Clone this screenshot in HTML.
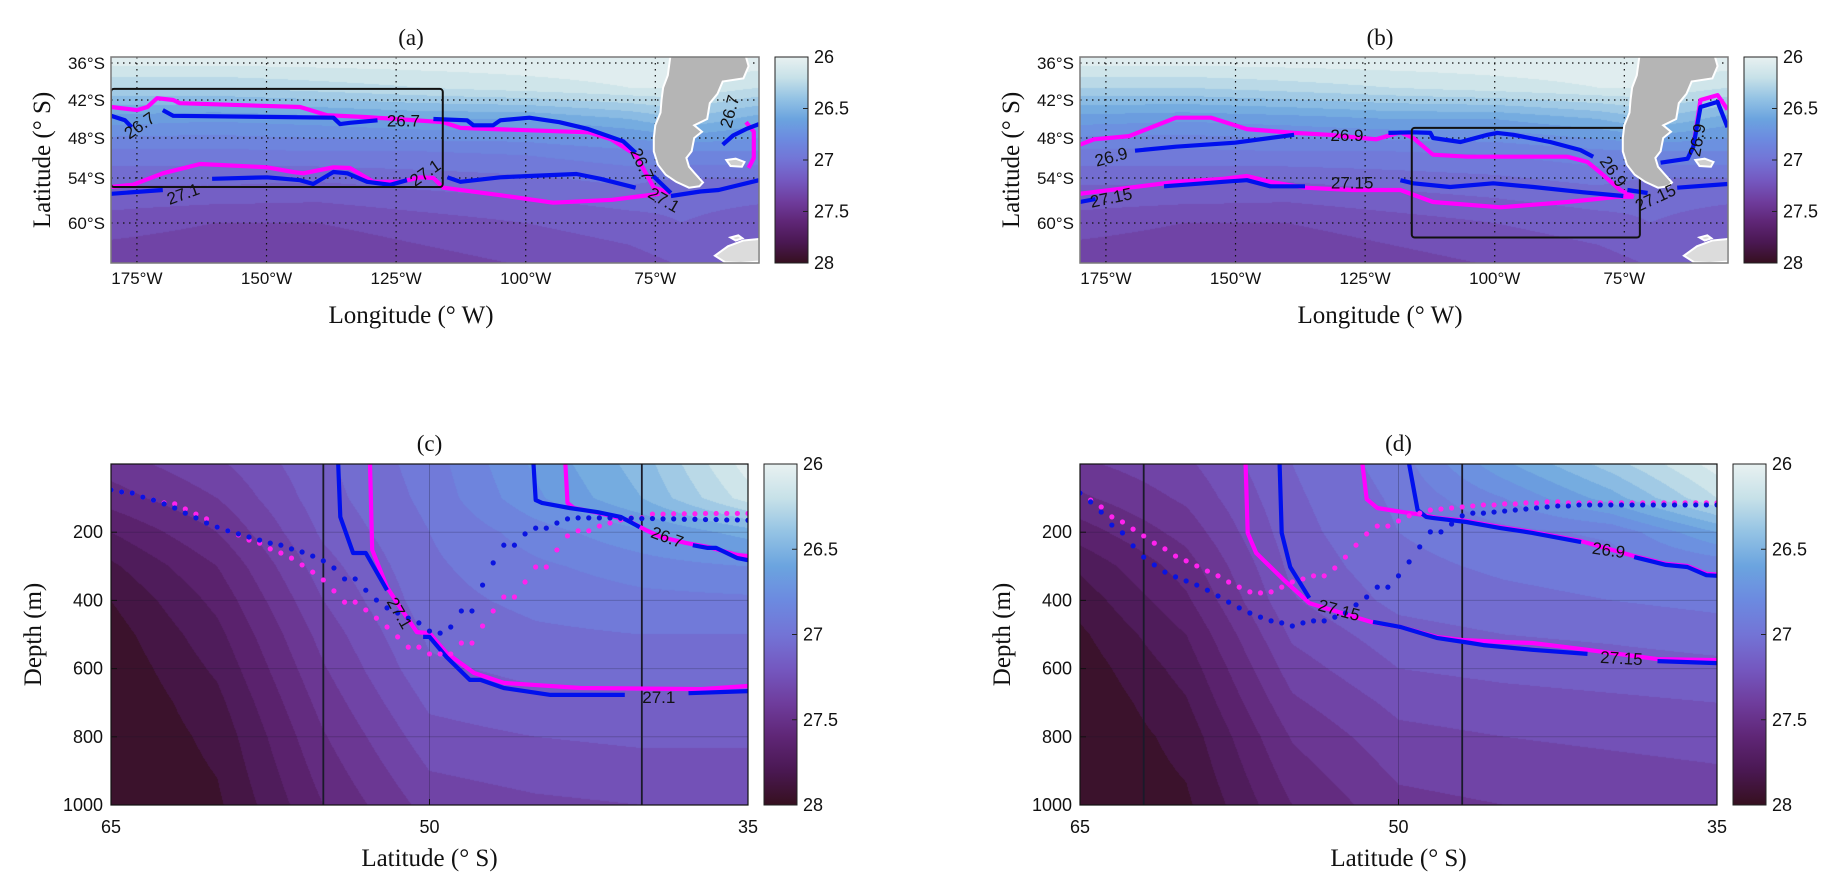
<!DOCTYPE html>
<html><head><meta charset="utf-8"><title>Density panels</title>
<style>
html,body{margin:0;padding:0;background:#fff;}
#wrap{position:relative;width:1844px;height:891px;overflow:hidden;background:#fff;}
#bg,#fig{position:absolute;left:0;top:0;}
text{font-family:"Liberation Sans",Arial,sans-serif;}
.serif{font-family:"Liberation Serif","DejaVu Serif",serif;}
</style></head>
<body>
<div id="wrap">
<canvas id="bg" width="1844" height="891"></canvas>
<svg id="fig" width="1844" height="891" xmlns="http://www.w3.org/2000/svg"></svg>
</div>
<script>
// ---------------- DATA ----------------
// Map panel (a)
const aBlue267Lon=[180,177.3,176,null,170,168,137.1,135.8,133.9,128.6,null,117.8,111.3,110.1,106.3,104.9,99.3,93.5,87.9,81.2,78.8,null,75.4,72,null,62,60,57.5,55];
const aBlue267Lat=[44.5,45.2,46.3,null,43.6,44.5,44.8,45.8,45.6,45.2,null,45,45.2,46,46,45.2,44.8,45.5,46.6,48.5,50.2,null,53.7,56,null,49,47.6,46.6,45.8];
const aMag267Lon=[180,175,173,171.1,168,166.7,143.5,138.3,130.6,115.9,112.6,106,87.9,83.5,78.8,75.3,72,null,57.5,56,56,57];
const aMag267Lat=[43.1,43.6,43.1,41.7,42,42.5,43.1,44.4,44.7,45.5,46.4,46.6,47.1,48.2,50.5,55.3,56,null,45.5,47,51,52.5];
const aBlue271Lon=[180,170,null,160.5,149.9,143.5,141,137.1,134.4,130.6,126.1,122.9,null,115.1,112.6,104.9,99.3,90.2,85.6,78.8,null,72,66.3,62.8,55];
const aBlue271Lat=[56.1,55.6,null,54.1,53.9,54.3,54.8,53.1,53.3,54.5,54.9,54.3,null,53.9,54.5,53.9,53.7,53.4,54.1,55.3,null,56.4,55.8,55.6,54.3];
const aMag271Lon=[180,175.8,170,162.8,149.9,144.9,142.9,137.1,133.9,129.4,124.2,120.3,117.8,115.9,104.9,94.7,83.3,74.2];
const aMag271Lat=[55.2,54.9,53.3,51.9,52.4,53.1,53.3,52.4,52.5,54.5,54.5,53.9,54,55.3,56.3,57.3,56.9,56.1];
const aBoxLon=[180,116];const aBoxLat=[40.2,55.2];
const aLabelText=["26.7","26.7","27.1","27.1","26.7","27.1","26.7"];
const aLabelLon=[174.5,123.6,166.1,119.4,77.5,73.3,60.7];
const aLabelLat=[46,45.2,56.1,53.2,51.9,56.9,43.8];
const aLabelRot=[-35,0,-20,-35,65,30,-75];
// Map panel (b)
const bMag269Lon=[180,177.3,170.5,161.5,154.7,147.8,138.7,131.9,122.9,118.2,115.7,111.9,105.3,98.9,86,82.1,79.6,75.8,73.2,null,61.7,60.3,57,55.1];
const bMag269Lat=[49.0,48.2,47.7,44.8,44.8,46.6,47.2,47.5,48.2,47.1,48.0,50.5,50.8,50.8,50.8,51.6,53.2,55.6,56.5,null,49.3,42,41.2,43.5];
const bBlue269Lon=[169.4,161.5,150.1,138.7,null,120.5,115.7,112.4,111.9,106.6,101.4,99.5,96.4,89.3,83.5,81,null,74.4,70.5,null,68,62.8,61.7,60.3,57,55.1];
const bBlue269Lat=[49.9,49.3,48.7,47.5,null,47.2,47.1,47.2,48.0,48.6,47.5,47.2,47.5,48.6,49.8,50.8,null,55.6,56.0,null,51.7,51.1,49.3,43.1,42.3,46.3];
const bMag2715Lon=[180,170.5,161.5,152.4,147.8,143.3,136.6,127.5,118.2,111.9,98.9,86,76.3,73.2];
const bMag2715Lat=[56.1,55.3,54.5,54.1,53.7,54.5,55.3,55.6,55.6,57.2,57.9,57.2,56.5,56.5];
const bBlue2715Lon=[180,177,null,163.8,152.4,147.8,143.3,136.6,null,118.2,115.7,108.6,100.3,92.5,82.9,75.2,null,64.8,55.1];
const bBlue2715Lat=[57.2,56.8,null,55.1,54.5,54.3,55.1,55.1,null,54.3,54.7,55.2,54.7,55.2,55.9,56.4,null,55.3,54.8];
const bBoxLon=[116,72];const bBoxLat=[46.4,62];
const bLabelText=["26.9","26.9","26.9","26.9","27.15","27.15","27.15"];
const bLabelLon=[174,128.5,77.1,61,174,127.5,69];
const bLabelLat=[50.8,47.5,53,48.3,56.6,54.6,56.6];
const bLabelRot=[-15,0,55,-80,-12,0,-25];
// Section panel (c)
const cBlue271Lat=[54.3,54.2,53.6,53.0,52.0,null,50.3,50.0,49.2,48.1,47.6,46.5,44.3,40.8,null,37.8,35];
const cBlue271Dep=[0,155,261,261,370,null,507,507,566,633,633,657,677,677,null,672,666];
const cMag271Lat=[52.8,52.7,52.0,51.4,50.6,50.0,49.2,47.9,46.5,42.9,37.2,35];
const cMag271Dep=[0,252,361,419,493,496,554,613,642,657,660,651];
const cBlue267Lat=[45.1,45.0,44.7,43.4,42.1,41.0,40.1,null,37.6,36.9,36.5,35.5,35];
const cBlue267Dep=[0,106,114,129,141,155,185,null,238,246,246,276,282];
const cMag267Lat=[43.6,43.5,43.2,42.0,40.7,39.8,39.1,37.9,36.9,35.5,35];
const cMag267Dep=[0,114,129,144,164,194,214,232,243,267,270];
const cBlueDots=[76,82,85,97,106,117,129,144,158,173,185,196,205,214,223,232,238,249,258,270,284,305,337,337,370,399,422,437,452,466,490,496,478,431,431,355,290,238,238,205,188,188,173,161,158,158,158,158,159,159,160,160,161,161,162,162,163,163,164,164,165];
const cMagDots=[76,82,85,97,106,114,117,132,147,161,185,196,208,223,232,249,261,276,296,317,340,372,405,405,428,452,478,507,537,537,557,557,557,525,525,475,431,390,390,346,302,302,252,211,196,196,182,173,164,158,158,147,147,146,146,146,145,145,145,145,145];
const cVLines=[55,40];
const cLabelText=["27.1","26.7","27.1"];
const cLabelLat=[51.4,38.8,39.2];
const cLabelDep=[437,214,684];
const cLabelRot=[60,20,0];
// Section panel (d)
const dMag2715Lat=[57.2,57.1,56.7,55.4,54.2,51.3,49.9,48.2,47.0,45.1,43.7,41.1,37.8,35];
const dMag2715Dep=[0,202,261,340,408,463,478,507,516,522,525,545,572,575];
const dBlue2715Lat=[55.6,55.5,55.1,54.2,null,51.2,49.9,48.2,46.6,46.0,43.7,41.1,null,37.8,35];
const dBlue2715Dep=[0,202,302,393,null,463,478,510,525,531,545,557,null,578,584];
const dBlue269Lat=[49.5,49.1,48.7,48.4,46.8,45.2,43.7,41.4,null,38.9,37.4,36.4,35.5,35];
const dBlue269Dep=[0,135,155,158,170,188,202,229,null,273,296,302,326,328];
const dMag269Lat=[51.7,51.5,51.0,49.8,48.8,48.2,46.8,45.2,43.7,41.4,38.9,37.4,36.4,35.5,35];
const dMag269Dep=[0,103,129,141,150,158,167,185,199,226,270,293,299,322,324];
const dBlueDots=[85,111,141,179,202,240,273,296,317,331,343,355,370,387,405,422,437,449,460,466,475,466,460,460,449,437,413,390,361,361,328,287,243,199,199,176,152,144,144,141,138,135,132,129,126,123,123,120,120,120,120,120,120,120,120,120,120,120,120,120,120];
const dMagDots=[85,106,126,155,170,191,211,232,249,270,284,299,314,328,346,361,375,378,375,361,346,337,328,328,305,273,238,205,182,182,167,152,144,135,132,129,126,123,120,120,117,117,114,114,111,111,114,114,114,114,114,114,114,114,114,114,114,114,114,114,114];
const dVLines=[62,47];
const dLabelText=["27.15","26.9","27.15"];
const dLabelLat=[52.8,40.1,39.5];
const dLabelDep=[428,252,569];
const dLabelRot=[15,8,3];
// Background density fields
const mapFieldLon=[55,70,80,100,120,140,160,180];
const mapFieldLat=[35,40,45,50,55,60,66];
const mapField=[
[26.02,26.02,26.02,26.02,26.02,26.02,26.02,26.02],
[26.2,26.1,26.1,26.15,26.2,26.25,26.3,26.3],
[26.55,26.4,26.5,26.6,26.6,26.65,26.68,26.65],
[26.8,26.8,26.82,26.88,26.9,26.9,26.92,26.92],
[27.05,27.05,27.0,27.05,27.08,27.12,27.1,27.1],
[27.15,27.1,27.15,27.2,27.25,27.3,27.3,27.25],
[27.2,27.2,27.25,27.3,27.35,27.4,27.4,27.38]];
const secFieldLat=[35,40,45,50,55,60,65];
const secFieldDep=[0,100,200,300,400,500,600,700,800,1000];
const cField=[
[26.05,26.45,26.68,26.95,27.12,27.32,27.45],
[26.15,26.5,26.72,26.97,27.14,27.4,27.55],
[26.55,26.72,26.85,27.0,27.18,27.5,27.7],
[26.8,26.85,26.92,27.02,27.24,27.6,27.82],
[26.92,26.93,26.97,27.04,27.3,27.67,27.9],
[27.0,27.0,27.02,27.08,27.36,27.73,27.95],
[27.06,27.06,27.07,27.12,27.41,27.78,27.98],
[27.12,27.12,27.13,27.18,27.46,27.83,28.0],
[27.18,27.18,27.2,27.24,27.51,27.87,28.0],
[27.3,27.3,27.32,27.36,27.6,27.92,28.0]];
const dField=[
[26.05,26.35,26.62,26.95,27.1,27.32,27.42],
[26.2,26.55,26.8,26.98,27.12,27.38,27.52],
[26.6,26.88,26.93,27.0,27.14,27.46,27.65],
[26.88,26.95,26.98,27.03,27.17,27.55,27.78],
[26.97,27.0,27.03,27.07,27.21,27.62,27.86],
[27.05,27.08,27.1,27.14,27.28,27.7,27.92],
[27.13,27.15,27.17,27.2,27.35,27.76,27.96],
[27.2,27.22,27.24,27.27,27.42,27.81,27.99],
[27.26,27.28,27.3,27.33,27.49,27.86,28.0],
[27.36,27.38,27.4,27.43,27.6,27.92,28.0]];
// Land (South America), lon W, lat S
const landLon=[71.8,72.6,73.5,73.8,74,75,75.3,75.3,74.5,73,71,68.5,66.5,65.8,67.5,68.5,69,68,67.5,66,67.5,65,64.5,63,62,58,57,57.5,56.5,56];
const landLat=[33,38,40,42,44,46,48,50,52,53.5,54.5,55.3,55.1,54.6,53.2,52.3,51,50,48,47,46,45,42.5,41,39,38.5,36.5,35,34.5,33];
const falkLon=[61.3,59.5,57.8,58.3,60.5];const falkLat=[51.3,51.1,51.6,52.3,52.2];
const antLon=[63.5,61,58,55,55,58.5,61.5];const antLat=[64.5,63.2,62.4,62.2,65.3,65.5,65.4];
const antLon2=[60.5,59,58.2,59.5];const antLat2=[62.0,61.7,62.1,62.4];
// Axes ticks
const mapLonTicks=[175,150,125,100,75];
const mapLatTicks=[36,42,48,54,60];
const secLatTicks=[65,50,35];
const secDepTicks=[200,400,600,800,1000];
const cbarTicks=[26,26.5,27,27.5,28];
// ---------------- COLORMAP ----------------
const cmapV=[26.0,26.2,26.4,26.6,26.8,27.0,27.2,27.4,27.6,27.8,28.0];
const cmapC=["#e8f1f1","#c7e1e8","#94c3e4","#6ba4df","#6c8ae0","#7374d6","#7458c0","#6f3d9d","#5f2676","#4a1852","#36101f"];
function hex(c){return [parseInt(c.slice(1,3),16),parseInt(c.slice(3,5),16),parseInt(c.slice(5,7),16)];}
const cmapRGB=cmapC.map(hex);
function cmap(v){
  if(v<=cmapV[0])return cmapRGB[0];
  for(let i=1;i<cmapV.length;i++){ if(v<=cmapV[i]){const t=(v-cmapV[i-1])/(cmapV[i]-cmapV[i-1]);const a=cmapRGB[i-1],b=cmapRGB[i];return [a[0]+(b[0]-a[0])*t,a[1]+(b[1]-a[1])*t,a[2]+(b[2]-a[2])*t];}}
  return cmapRGB[cmapRGB.length-1];
}
function locate(arr,v){let i=0;while(i<arr.length-2&&v>arr[i+1])i++;let t=(v-arr[i])/(arr[i+1]-arr[i]);t=Math.max(0,Math.min(1,t));return [i,t];}
function interp2(xs,ys,tab,x,y){const [i,tx]=locate(xs,x);const [j,ty]=locate(ys,y);
  const a=tab[j][i],b=tab[j][i+1],c=tab[j+1][i],d=tab[j+1][i+1];return (a*(1-tx)+b*tx)*(1-ty)+(c*(1-tx)+d*tx)*ty;}
// ---------------- PANELS / AXES ----------------
const P={a:{x0:111,y0:57,w:648,h:206},b:{x0:1080,y0:57,w:648,h:206},c:{x0:111,y0:464,w:637,h:341},d:{x0:1080,y0:464,w:637,h:341}};
const mapLatBP=[35,36,42,48,54,60,65.5], mapYBP=[0,6,43,81,121,166,206];
function mapX(p,lon){return p.x0+(180-lon)*p.w/125;}
function mapY(p,lat){const [i]=locate(mapLatBP,lat);const tt=(lat-mapLatBP[i])/(mapLatBP[i+1]-mapLatBP[i]);return p.y0+mapYBP[i]+(mapYBP[i+1]-mapYBP[i])*tt;}
function mapYinv(p,y){const r=y-p.y0;const [i]=locate(mapYBP,r);const t=(r-mapYBP[i])/(mapYBP[i+1]-mapYBP[i]);return mapLatBP[i]+(mapLatBP[i+1]-mapLatBP[i])*t;}
function secX(p,lat){return p.x0+(65-lat)*p.w/30;}
function secY(p,dep){return p.y0+dep*p.h/1000;}
// ---------------- BACKGROUND CANVAS ----------------
const ctx=document.getElementById('bg').getContext('2d');
function band(v){const b=Math.floor((v-26)/0.1);return cmap(26+0.1*b+0.05);}
function paint(p,fn){
  const img=ctx.createImageData(p.w,p.h);
  for(let y=0;y<p.h;y++)for(let x=0;x<p.w;x++){
    const c=band(fn(p.x0+x+0.5,p.y0+y+0.5));const k=(y*p.w+x)*4;
    img.data[k]=c[0];img.data[k+1]=c[1];img.data[k+2]=c[2];img.data[k+3]=255;}
  ctx.putImageData(img,p.x0,p.y0);
}
['a','b'].forEach(k=>{const p=P[k];paint(p,(X,Y)=>{const lon=180-(X-p.x0)*125/p.w;const lat=mapYinv(p,Y);return interp2(mapFieldLon,mapFieldLat,mapField,lon,lat);});});
[['c',cField],['d',dField]].forEach(([k,tab])=>{const p=P[k];paint(p,(X,Y)=>{const lat=65-(X-p.x0)*30/p.w;const dep=(Y-p.y0)*1000/p.h;return interp2(secFieldLat,secFieldDep,tab,lat,dep);});});
// ---------------- SVG ----------------
const NS='http://www.w3.org/2000/svg';
const svg=document.getElementById('fig');
function el(tag,attrs,parent){const e=document.createElementNS(NS,tag);for(const k in attrs)e.setAttribute(k,attrs[k]);(parent||svg).appendChild(e);return e;}
function txt(s,x,y,attrs,parent){const t=el('text',Object.assign({x:x,y:y,'font-size':17,fill:'#111'},attrs||{}),parent);t.textContent=s;return t;}
const defs=el('defs',{});
const grad=el('linearGradient',{id:'cbg',x1:0,y1:0,x2:0,y2:1},defs);
cmapV.forEach((v,i)=>{el('stop',{offset:((v-26)/2*100)+'%','stop-color':cmapC[i]},grad);});
Object.keys(P).forEach(k=>{const p=P[k];const cp=el('clipPath',{id:'clip'+k},defs);el('rect',{x:p.x0,y:p.y0,width:p.w,height:p.h},cp);});
function pathFrom(xs,ys){let d='',pen=false;for(let i=0;i<xs.length;i++){if(xs[i]===null){pen=false;continue;}d+=(pen?'L':'M')+xs[i].toFixed(1)+' '+ys[i].toFixed(1)+' ';pen=true;}return d;}
function drawLine(g,p,isMap,la,lb,color,name){
  const xs=la.map(v=>v===null?null:(isMap?mapX(p,v):secX(p,v)));
  const ys=lb.map(v=>v===null?null:(isMap?mapY(p,v):secY(p,v)));
  const e=el('path',{d:pathFrom(xs,ys),fill:'none',stroke:color,'stroke-width':4.2,'stroke-linejoin':'round','stroke-linecap':'butt'},g);
  
  
}
function drawLabels(g,p,isMap,texts,la,lb,rots,name){
  texts.forEach((s,i)=>{const x=isMap?mapX(p,la[i]):secX(p,la[i]);const y=isMap?mapY(p,lb[i]):secY(p,lb[i]);
    const t=txt(s,x,y+6,{'text-anchor':'middle','font-size':17,fill:'#111',transform:'rotate('+rots[i]+' '+x+' '+y+')'},g);
    
    });
}
function colorbar(p,name){
  const cx=p.x0+p.w+16, cy=p.y0, cw=33, ch=p.h;
  const g=el('g',{});
  
  
  el('rect',{x:cx,y:cy,width:cw,height:ch,fill:'url(#cbg)',stroke:'#222','stroke-width':1},g);
  cbarTicks.forEach(v=>{const y=cy+(v-26)/2*ch;
    if(v>26&&v<28)el('line',{x1:cx+cw-5,x2:cx+cw,y1:y,y2:y,stroke:'#222','stroke-width':1},g);
    const t=txt(String(v),cx+cw+6,y+6,{'font-size':18},g);
    
    });
}
function land(g,p){
  const mk=(lo,la,fill,name)=>{const d=pathFrom(lo.map(v=>mapX(p,v)),la.map(v=>mapY(p,v)))+'Z';
    const e=el('path',{d:d,fill:fill,stroke:'#ffffff','stroke-width':2},g);
    
    };
  mk(landLon,landLat,'#b5b5b5','south-america-land');
  mk(falkLon,falkLat,'#cfcfcf','falkland-islands');
  mk(antLon,antLat,'#dcdcdc','antarctic-peninsula');
  mk(antLon2,antLat2,'#dcdcdc','south-shetland-islands');
}
function mapPanel(k,title,lines,labels,box){
  const p=P[k];
  const g=el('g',{});
  
  
  const inner=el('g',{'clip-path':'url(#clip'+k+')'},g);
  mapLonTicks.forEach(lon=>{const x=mapX(p,lon);const e=el('line',{x1:x,x2:x,y1:p.y0,y2:p.y0+p.h,stroke:'#111','stroke-width':1.2,'stroke-dasharray':'1.5 4.5'},inner);
    
    });
  mapLatTicks.forEach(lat=>{const y=mapY(p,lat);const e=el('line',{x1:p.x0,x2:p.x0+p.w,y1:y,y2:y,stroke:'#111','stroke-width':1.2,'stroke-dasharray':'1.5 4.5'},inner);
    
    });
  lines.forEach(L=>drawLine(inner,p,true,L[0],L[1],L[2],L[3]));
  const bx1=mapX(p,box[0][0]),bx2=mapX(p,box[0][1]),by1=mapY(p,box[1][0]),by2=mapY(p,box[1][1]);
  const r=el('rect',{x:Math.min(bx1,bx2),y:by1,width:Math.abs(bx2-bx1),height:by2-by1,rx:3,fill:'none',stroke:'#111','stroke-width':2},inner);
  
  
  land(inner,p);
  drawLabels(inner,p,true,labels[0],labels[1],labels[2],labels[3],'contour-label');
  el('rect',{x:p.x0,y:p.y0,width:p.w,height:p.h,fill:'none',stroke:'#7a7a7a','stroke-width':1.5},g);
  mapLonTicks.forEach(lon=>{const t=txt(lon+'°W',mapX(p,lon),284,{'text-anchor':'middle'},g);
    
    });
  mapLatTicks.forEach(lat=>{const t=txt(lat+'°S',p.x0-6,mapY(p,lat)+6,{'text-anchor':'end'},g);
    
    });
  const tt=txt(title,p.x0+p.w/2-24,45,{'text-anchor':'middle','font-size':23,class:'serif'},g);
  
  
  const xl=txt('Longitude (° W)',p.x0+p.w/2-24,323,{'text-anchor':'middle','font-size':25,class:'serif'},g);
  
  
  const yl=txt('Latitude (° S)',0,0,{'text-anchor':'middle','font-size':25,class:'serif',transform:'translate('+(p.x0-61)+','+(p.y0+p.h/2)+') rotate(-90)'},g);
  
  
  colorbar(p,'colorbar-'+k);
}
function secPanel(k,title,lines,dotSets,vlines,labels){
  const p=P[k];
  const g=el('g',{});
  
  
  const inner=el('g',{'clip-path':'url(#clip'+k+')'},g);
  [50].forEach(lat=>{const x=secX(p,lat);const e=el('line',{x1:x,x2:x,y1:p.y0,y2:p.y0+p.h,stroke:'rgba(20,20,40,0.28)','stroke-width':1},inner);
    
    });
  secDepTicks.forEach(dep=>{const y=secY(p,dep);const e=el('line',{x1:p.x0,x2:p.x0+p.w,y1:y,y2:y,stroke:'rgba(20,20,40,0.22)','stroke-width':1},inner);
    
    });
  vlines.forEach(lat=>{const x=secX(p,lat);const e=el('line',{x1:x,x2:x,y1:p.y0,y2:p.y0+p.h,stroke:'#1a1a2a','stroke-width':1.8},inner);
    
    });
  lines.forEach(L=>drawLine(inner,p,false,L[0],L[1],L[2],L[3]));
  dotSets.forEach(([vals,color,name])=>{vals.forEach((dep,i)=>{const lat=65-0.5*i;
    const c=el('circle',{cx:secX(p,lat),cy:secY(p,dep),r:2.6,fill:color},inner);
    
    });});
  drawLabels(inner,p,false,labels[0],labels[1],labels[2],labels[3],'contour-label');
  el('rect',{x:p.x0,y:p.y0,width:p.w,height:p.h,fill:'none',stroke:'#111','stroke-width':1.2},g);
  secLatTicks.forEach(lat=>{const x=secX(p,lat);
    el('line',{x1:x,x2:x,y1:p.y0+p.h,y2:p.y0+p.h-6,stroke:'#111','stroke-width':1},g);
    const t=txt(String(lat),x,833,{'text-anchor':'middle','font-size':18},g);
    
    });
  secDepTicks.forEach(dep=>{const y=secY(p,dep);
    el('line',{x1:p.x0,x2:p.x0+6,y1:y,y2:y,stroke:'#111','stroke-width':1},g);
    const t=txt(String(dep),p.x0-8,y+6,{'text-anchor':'end','font-size':18},g);
    
    });
  const tt=txt(title,p.x0+p.w/2,451,{'text-anchor':'middle','font-size':23,class:'serif'},g);
  
  
  const xl=txt('Latitude (° S)',p.x0+p.w/2,866,{'text-anchor':'middle','font-size':25,class:'serif'},g);
  
  
  const yl=txt('Depth (m)',0,0,{'text-anchor':'middle','font-size':25,class:'serif',transform:'translate('+(p.x0-70)+','+(p.y0+p.h/2)+') rotate(-90)'},g);
  
  
  colorbar(p,'colorbar-'+k);
}
mapPanel('a','(a)',[[aMag267Lon,aMag267Lat,'#ff00ff','isopycnal-26.7-magenta'],[aMag271Lon,aMag271Lat,'#ff00ff','isopycnal-27.1-magenta'],[aBlue267Lon,aBlue267Lat,'#0010ee','isopycnal-26.7-blue'],[aBlue271Lon,aBlue271Lat,'#0010ee','isopycnal-27.1-blue']],[aLabelText,aLabelLon,aLabelLat,aLabelRot],[aBoxLon,aBoxLat]);
mapPanel('b','(b)',[[bMag269Lon,bMag269Lat,'#ff00ff','isopycnal-26.9-magenta'],[bMag2715Lon,bMag2715Lat,'#ff00ff','isopycnal-27.15-magenta'],[bBlue269Lon,bBlue269Lat,'#0010ee','isopycnal-26.9-blue'],[bBlue2715Lon,bBlue2715Lat,'#0010ee','isopycnal-27.15-blue']],[bLabelText,bLabelLon,bLabelLat,bLabelRot],[bBoxLon,bBoxLat]);
secPanel('c','(c)',[[cMag271Lat,cMag271Dep,'#ff00ff','isopycnal-27.1-magenta'],[cMag267Lat,cMag267Dep,'#ff00ff','isopycnal-26.7-magenta'],[cBlue271Lat,cBlue271Dep,'#0010ee','isopycnal-27.1-blue'],[cBlue267Lat,cBlue267Dep,'#0010ee','isopycnal-26.7-blue']],[[cMagDots,'#ff22ee','mixed-layer-dot-magenta'],[cBlueDots,'#0a14e0','mixed-layer-dot-blue']],cVLines,[cLabelText,cLabelLat,cLabelDep,cLabelRot]);
secPanel('d','(d)',[[dMag2715Lat,dMag2715Dep,'#ff00ff','isopycnal-27.15-magenta'],[dMag269Lat,dMag269Dep,'#ff00ff','isopycnal-26.9-magenta'],[dBlue2715Lat,dBlue2715Dep,'#0010ee','isopycnal-27.15-blue'],[dBlue269Lat,dBlue269Dep,'#0010ee','isopycnal-26.9-blue']],[[dMagDots,'#ff22ee','mixed-layer-dot-magenta'],[dBlueDots,'#0a14e0','mixed-layer-dot-blue']],dVLines,[dLabelText,dLabelLat,dLabelDep,dLabelRot]);
</script>
</body></html>
